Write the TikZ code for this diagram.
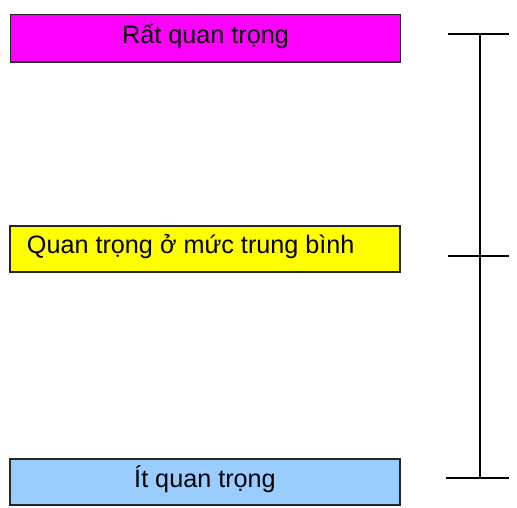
\documentclass[tikz,border=0pt]{standalone}
\usepackage{fontspec}
\setmainfont{Liberation Sans}
\newfontfamily\boxfont{Liberation Sans}
\definecolor{levelhigh}{HTML}{FF00FF}
\definecolor{levelmid}{HTML}{FFFF00}
\definecolor{levellow}{HTML}{99CCFF}
\begin{document}
\begin{tikzpicture}[x=1pt,y=-1pt,
  levelbox/.style={draw=black!85, line width=1.5pt, minimum width=390pt,
    inner xsep=0pt, inner ysep=0pt, text height=18pt, text depth=8pt,
    font=\boxfont\fontsize{25.2}{30}\selectfont},
  levellabel/.style={inner sep=0pt, text height=18pt, text depth=8pt,
    font=\boxfont\fontsize{25.2}{30}\selectfont},
  bracketline/.style={line width=2pt, black}]
\useasboundingbox (0,0) rectangle (517,507);
% importance levels
\node[levelbox, fill=levelhigh, minimum height=47.5pt] (high) at (205.5,38.25) {Rất quan trọng};
\node[levelbox, fill=levelmid, minimum height=46pt] (mid) at (205,249) {};
\node[levellabel, anchor=west] (midlabel) at ([xshift=17.5pt,yshift=0.5pt]mid.west) {Quan trọng ở mức trung bình};
\node[levelbox, fill=levellow, minimum height=46pt] (low) at (205,482) {Ít quan trọng};
% scale bracket
\coordinate (topL) at (448,34);
\coordinate (topR) at (509,34);
\coordinate (midL) at (448,256);
\coordinate (midR) at (509,256);
\coordinate (botL) at (446,478);
\coordinate (botR) at (509,478);
\coordinate (axisTop) at (479.5,34);
\coordinate (axisBot) at (479.5,478);
\draw[bracketline] (topL) -- (topR);
\draw[bracketline] (midL) -- (midR);
\draw[bracketline] (botL) -- (botR);
\draw[bracketline] (axisTop) -- (axisBot);
\end{tikzpicture}
\end{document}
